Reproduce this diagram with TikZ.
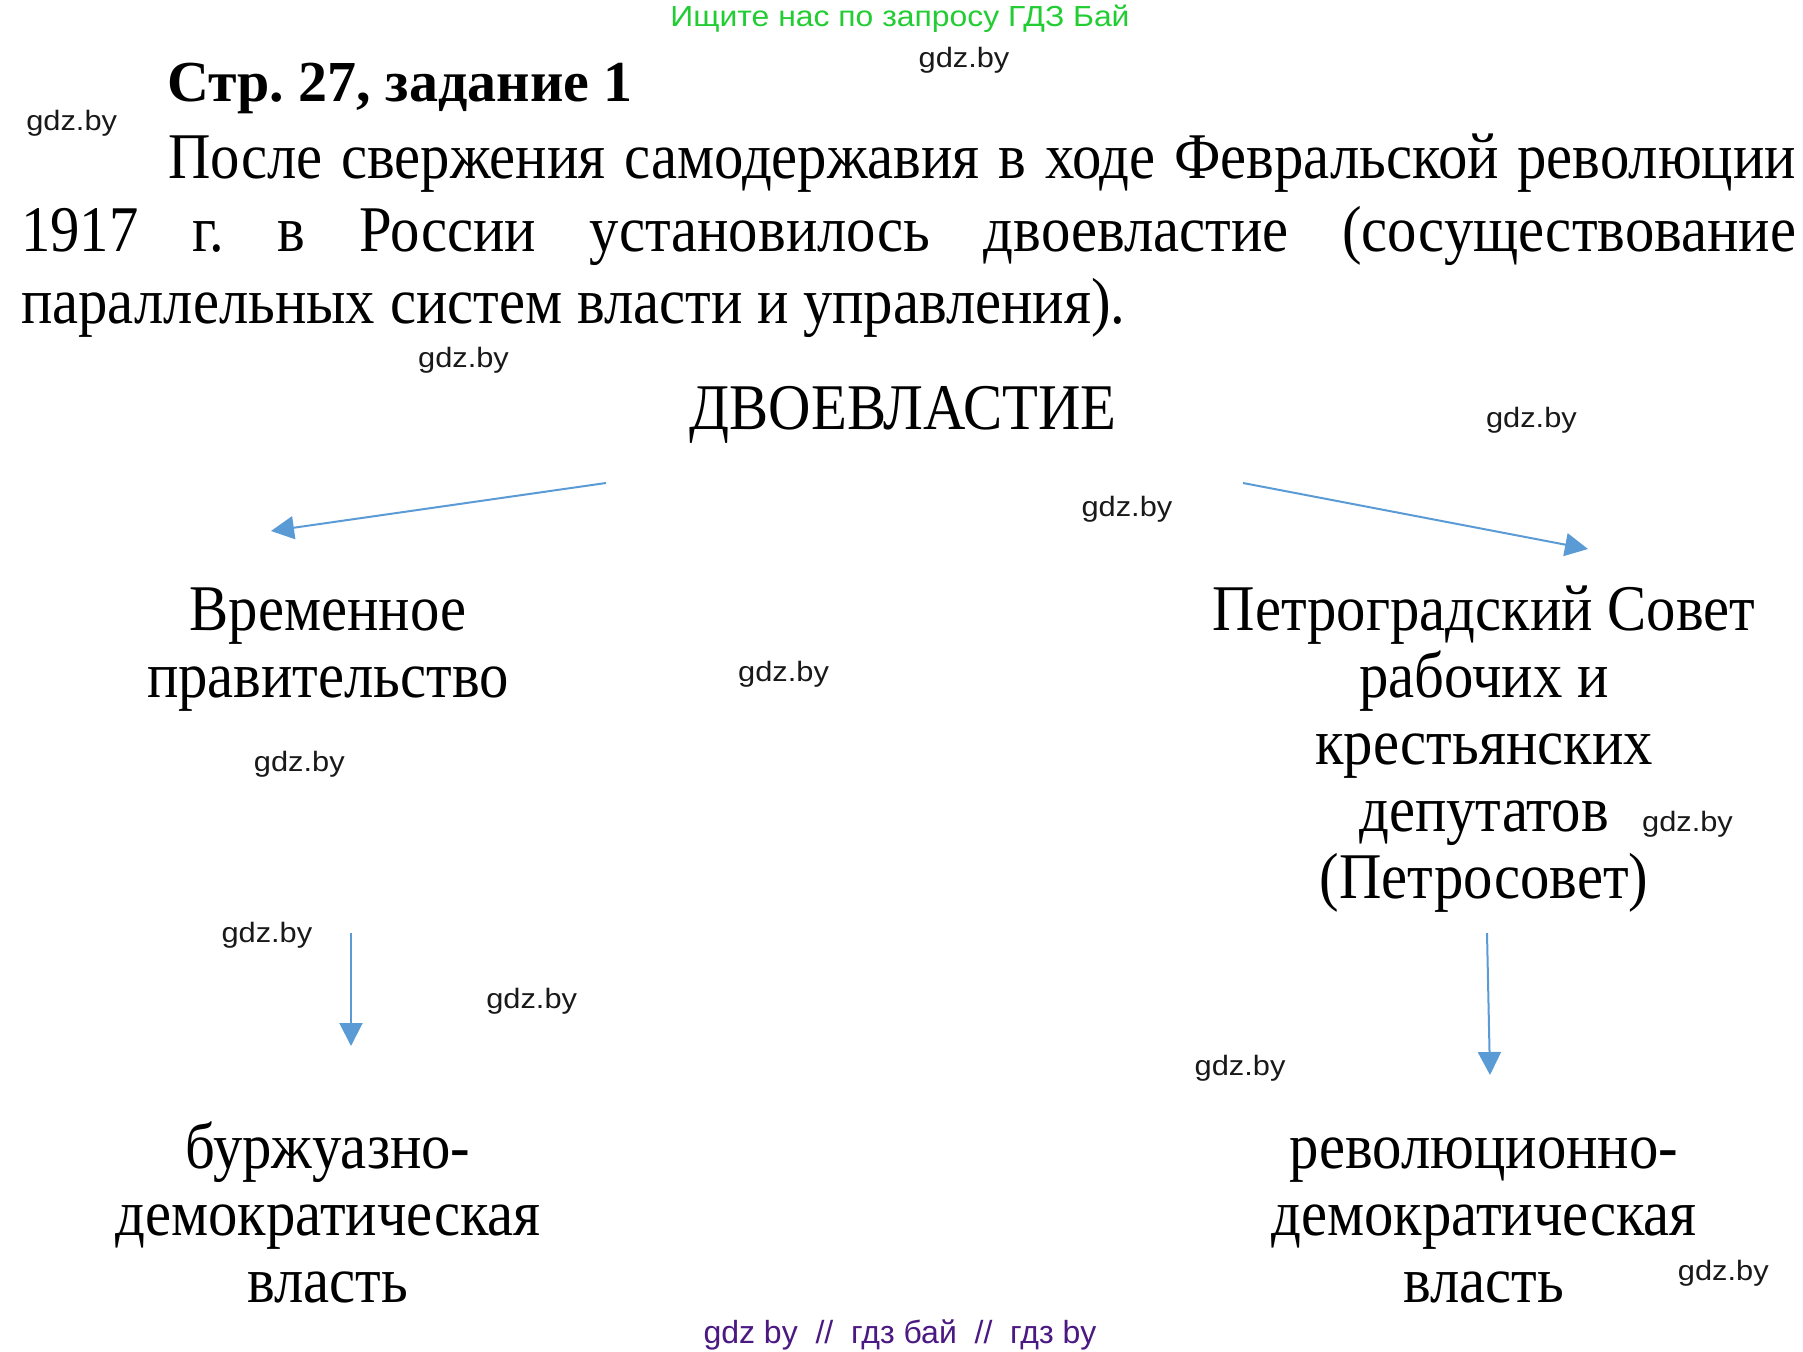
\documentclass[tikz,border=0pt]{standalone}
\usepackage{fontspec}
\setmainfont{Liberation Serif}[FakeStretch=0.9]
\newfontfamily\titlefont{Liberation Serif}
\newfontfamily\wmfont{Liberation Sans}[FakeStretch=1.1]
\newfontfamily\adfont{Liberation Sans}
\usetikzlibrary{arrows.meta}
\definecolor{arrowblue}{RGB}{91,155,213}
\definecolor{adgreen}{RGB}{34,204,51}
\definecolor{adpurple}{RGB}{75,25,130}
\frenchspacing
\begin{document}
\begin{tikzpicture}[x=0.5pt,y=-0.5pt,
  body/.style={font=\fontsize{32.6}{33.5}\selectfont, inner sep=0pt},
  line/.style={body, anchor=base west},
  block/.style={body, align=center, anchor=base},
  wm/.style={font=\wmfont\fontsize{14}{16}\selectfont, text=black!90, inner sep=0pt},
  conn/.style={draw=arrowblue, line width=1pt, -{Triangle[width=11.5pt,length=11.5pt]}},
]
\useasboundingbox (0,0) rectangle (1803,1352);
% adverts
\node[font=\wmfont\fontsize{14.5}{16}\selectfont, text=adgreen, inner sep=0pt, anchor=base] (adtop) at (900,26.7) {Ищите нас по запросу ГДЗ Бай};
\node[font=\adfont\fontsize{16}{18}\selectfont, text=adpurple, inner sep=0pt, anchor=base] (adbottom) at (900,1343) {gdz by\ \ //\ \ гдз бай\ \ //\ \ гдз by};
% heading and paragraph
\node[line, font=\titlefont\fontsize{29}{33}\selectfont\bfseries] (title) at (167,102) {Стр. 27, задание 1};
\node[line] (p1) at (167.6,179) {\hbox to 814pt{После свержения самодержавия в ходе Февральской революции}};
\node[line] (p2) at (20.8,252) {\hbox to 887.5pt{1917 г. в России установилось двоевластие (сосуществование}};
\node[line] (p3) at (20.8,323.6) {параллельных систем власти и управления).};
% diagram (anchor = baseline of last line)
\node[block] (dual) at (903,430) {ДВОЕВЛАСТИЕ};
\node[block] (prov) at (328,697) {Временное\\правительство};
\node[block] (soviet) at (1484,898) {Петроградский Совет\\рабочих и\\крестьянских\\депутатов\\(Петросовет)};
\node[block] (bourg) at (328,1302.5) {буржуазно-\\демократическая\\власть};
\node[block] (revol) at (1484,1302.5) {революционно-\\демократическая\\власть};
% connector ends
\coordinate (dualL) at (606,483);
\coordinate (dualR) at (1243,483);
\coordinate (provIn) at (271,531);
\coordinate (sovIn) at (1588,549);
\coordinate (provOut) at (351,933);
\coordinate (bourgIn) at (351,1046);
\coordinate (sovOut) at (1487,933);
\coordinate (revolIn) at (1490,1075);
\draw[conn] (dualL) -- (provIn);
\draw[conn] (dualR) -- (sovIn);
\draw[conn] (provOut) -- (bourgIn);
\draw[conn] (sovOut) -- (revolIn);
% watermarks
\node[wm] (w1) at (964,60) {gdz.by};
\node[wm] (w2) at (71.7,123.7) {gdz.by};
\node[wm] (w3) at (463.5,360.6) {gdz.by};
\node[wm] (w4) at (1531.4,420.7) {gdz.by};
\node[wm] (w5) at (1126.9,509.7) {gdz.by};
\node[wm] (w6) at (783.6,673.8) {gdz.by};
\node[wm] (w7) at (299.3,764) {gdz.by};
\node[wm] (w8) at (1687.5,824.1) {gdz.by};
\node[wm] (w9) at (266.9,935) {gdz.by};
\node[wm] (w10) at (531.7,1000.9) {gdz.by};
\node[wm] (w11) at (1240.1,1067.9) {gdz.by};
\node[wm] (w12) at (1723.3,1273.7) {gdz.by};
\end{tikzpicture}
\end{document}
